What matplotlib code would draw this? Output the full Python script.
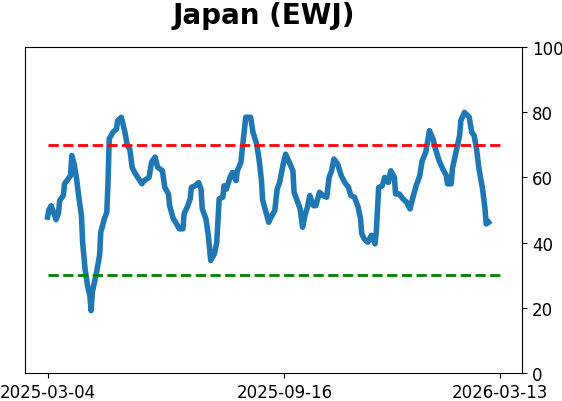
import matplotlib
matplotlib.use("Agg")
import matplotlib.pyplot as plt
import pandas as pd

dates = [
    "2025-03-04", "2025-03-05", "2025-03-07", "2025-03-10", "2025-03-11", "2025-03-13",
    "2025-03-14", "2025-03-17", "2025-03-18", "2025-03-21", "2025-03-23", "2025-03-24",
    "2025-03-26", "2025-03-28", "2025-03-30", "2025-04-01", "2025-04-02", "2025-04-04",
    "2025-04-06", "2025-04-08", "2025-04-09", "2025-04-10", "2025-04-13", "2025-04-16",
    "2025-04-17", "2025-04-20", "2025-04-22", "2025-04-23", "2025-04-24", "2025-04-27",
    "2025-04-30", "2025-05-01", "2025-05-04", "2025-05-07", "2025-05-09", "2025-05-11",
    "2025-05-13", "2025-05-15", "2025-05-21", "2025-05-23", "2025-05-27", "2025-05-29",
    "2025-06-01", "2025-06-03", "2025-06-07", "2025-06-09", "2025-06-12", "2025-06-13",
    "2025-06-16", "2025-06-18", "2025-06-21", "2025-06-24", "2025-06-25", "2025-06-28",
    "2025-06-30", "2025-07-01", "2025-07-04", "2025-07-07", "2025-07-09", "2025-07-10",
    "2025-07-13", "2025-07-15", "2025-07-17", "2025-07-20", "2025-07-22", "2025-07-24",
    "2025-07-27", "2025-07-28", "2025-07-30", "2025-08-02", "2025-08-04", "2025-08-07",
    "2025-08-08", "2025-08-11", "2025-08-13", "2025-08-15", "2025-08-19", "2025-08-21",
    "2025-08-24", "2025-08-26", "2025-08-28", "2025-08-29", "2025-08-31", "2025-09-03",
    "2025-09-05", "2025-09-08", "2025-09-10", "2025-09-12", "2025-09-15", "2025-09-17",
    "2025-09-20", "2025-09-23", "2025-09-24", "2025-09-27", "2025-09-29", "2025-10-01",
    "2025-10-03", "2025-10-05", "2025-10-07", "2025-10-10", "2025-10-12", "2025-10-15",
    "2025-10-18", "2025-10-21", "2025-10-23", "2025-10-25", "2025-10-27", "2025-10-30",
    "2025-11-02", "2025-11-05", "2025-11-08", "2025-11-10", "2025-11-13", "2025-11-16",
    "2025-11-18", "2025-11-19", "2025-11-21", "2025-11-24", "2025-11-27", "2025-11-30",
    "2025-12-01", "2025-12-03", "2025-12-06", "2025-12-08", "2025-12-11", "2025-12-13",
    "2025-12-16", "2025-12-17", "2025-12-20", "2025-12-23", "2025-12-26", "2025-12-29",
    "2025-12-31", "2026-01-03", "2026-01-06", "2026-01-08", "2026-01-11", "2026-01-14",
    "2026-01-17", "2026-01-19", "2026-01-22", "2026-01-25", "2026-01-28", "2026-01-29",
    "2026-02-01", "2026-02-02", "2026-02-05", "2026-02-08", "2026-02-09", "2026-02-12",
    "2026-02-16", "2026-02-18", "2026-02-20", "2026-02-22", "2026-02-24", "2026-02-27",
    "2026-03-01", "2026-03-02", "2026-03-04",
]

values = [
    47.8, 50.0, 51.3, 48.0, 47.0, 49.0,
    52.9, 54.4, 58.0, 59.5, 60.5, 66.7,
    64.0, 59.5, 53.4, 48.3, 40.0, 31.9,
    26.9, 23.7, 19.1, 24.8, 29.9, 36.0,
    43.2, 47.3, 49.3, 58.4, 71.8, 73.8,
    74.8, 77.4, 78.4, 73.8, 69.7, 68.7,
    63.0, 61.5, 58.0, 59.0, 60.0, 64.6,
    66.2, 63.1, 62.0, 56.9, 54.9, 51.3,
    47.3, 46.2, 44.2, 44.2, 48.8, 51.3,
    53.4, 56.9, 57.4, 58.4, 56.4, 50.3,
    47.3, 42.2, 34.5, 36.5, 40.1, 53.4,
    53.9, 57.4, 56.4, 60.0, 61.5, 59.0,
    62.0, 64.6, 71.7, 78.4, 78.4, 73.8,
    70.2, 65.6, 59.0, 52.9, 50.3, 46.2,
    47.8, 49.8, 56.4, 58.4, 64.1, 67.1,
    64.6, 62.0, 55.4, 52.4, 50.3, 44.7,
    48.3, 50.8, 54.4, 51.3, 51.3, 55.4,
    54.4, 53.9, 60.0, 62.0, 65.6, 64.1,
    60.5, 58.4, 56.9, 54.4, 53.9, 50.8,
    47.3, 42.7, 41.1, 40.1, 42.2, 39.6,
    43.2, 56.9, 57.4, 60.0, 58.4, 62.0,
    60.0, 54.9, 54.9, 53.4, 52.4, 50.3,
    53.4, 57.4, 60.5, 65.1, 67.7, 74.3,
    71.7, 68.7, 65.1, 62.6, 60.5, 58.0,
    58.0, 62.6, 67.7, 72.8, 77.4, 79.9,
    78.4, 73.8, 72.8, 68.7, 62.6, 56.4,
    50.3, 45.7, 46.2,
]

level_start = "2025-03-04"
level_end = "2026-03-13"
upper_level = 70
lower_level = 30
xtick_labels = ["2025-03-04", "2025-09-16", "2026-03-13"]
yticks = [0, 20, 40, 60, 80, 100]

x = pd.to_datetime(dates)
lx = pd.to_datetime([level_start, level_end])

fig = plt.figure(figsize=(5.62, 4.02), dpi=100)
ax = fig.add_axes([0.0445, 0.0697, 0.8845, 0.8113])

ax.plot(x, values, color="#1f77b4", linewidth=4)
ax.plot(lx, [upper_level, upper_level], color="red", linestyle="--", linewidth=2)
ax.plot(lx, [lower_level, lower_level], color="green", linestyle="--", linewidth=2)

ax.set_ylim(0, 100)
ax.set_yticks(yticks)
ax.yaxis.tick_right()
ax.set_xticks(pd.to_datetime(xtick_labels))
ax.set_xticklabels(xtick_labels)
ax.tick_params(labelsize=12)

ax.set_title("Japan (EWJ)", fontsize=20, fontweight="bold", pad=17, x=0.48)

fig.savefig("out.png", dpi=100)
